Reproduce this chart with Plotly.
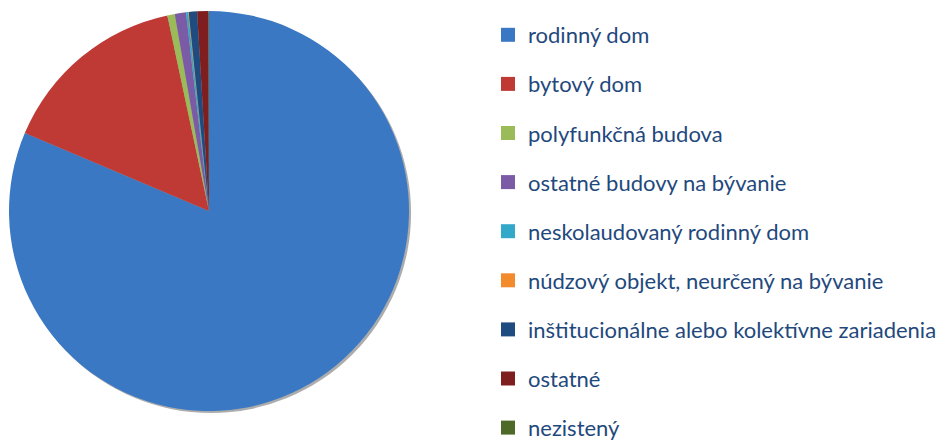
import plotly.graph_objects as go

labels = [
    "rodinný dom",
    "bytový dom",
    "polyfunkčná budova",
    "ostatné budovy na bývanie",
    "neskolaudovaný rodinný dom",
    "núdzový objekt, neurčený na bývanie",
    "inštitucionálne alebo kolektívne zariadenia",
    "ostatné",
    "nezistený",
]
values = [81.4, 15.3, 0.6, 0.9, 0.17, 0.05, 0.67, 0.9, 0.05]
colors = ["#3B78C4", "#BF3A35", "#9BBB59", "#7B5BA6", "#33A8C9",
          "#F38A2C", "#1F4C80", "#7E1E1E", "#4F6A28"]

W, H = 947, 441
fig = go.Figure()
# soft shadow behind the pie
fig.add_trace(go.Pie(
    labels=["shadow"], values=[1], sort=False,
    marker=dict(colors=["rgba(70,70,70,0.45)"], line=dict(width=0)),
    textinfo="none", hoverinfo="skip", showlegend=False,
    domain=dict(x=[3 / W, 403 / W], y=[1 - 405 / H, 1 - 5 / H]),
))
fig.add_trace(go.Pie(
    labels=labels, values=values, sort=False, direction="clockwise", rotation=0,
    marker=dict(colors=colors, line=dict(width=0)),
    textinfo="none", hoverinfo="label+percent", showlegend=False,
    domain=dict(x=[1 / W, 401 / W], y=[1 - 403 / H, 1 - 3 / H]),
))
for i, (lab, col) in enumerate(zip(labels, colors)):
    fig.add_trace(go.Scatter(
        x=[None], y=[None], mode="markers", name=lab,
        marker=dict(symbol="square", size=14, color=col),
        legendgroup=f"g{i}", showlegend=True,
    ))

fig.update_layout(
    width=W, height=H,
    margin=dict(l=0, r=0, t=0, b=0),
    paper_bgcolor="white", plot_bgcolor="white",
    xaxis=dict(visible=False), yaxis=dict(visible=False),
    font=dict(family="Lato, Carlito, sans-serif", color="#1F497D"),
    legend=dict(
        x=480 / W, y=1 - 13 / H, xanchor="left", yanchor="top",
        font=dict(size=22, color="#1F497D", family="Lato, Carlito, sans-serif"),
        tracegroupgap=17.5, bgcolor="rgba(0,0,0,0)", borderwidth=0,
        itemclick=False, itemdoubleclick=False,
    ),
)
fig.write_html("out.html")
